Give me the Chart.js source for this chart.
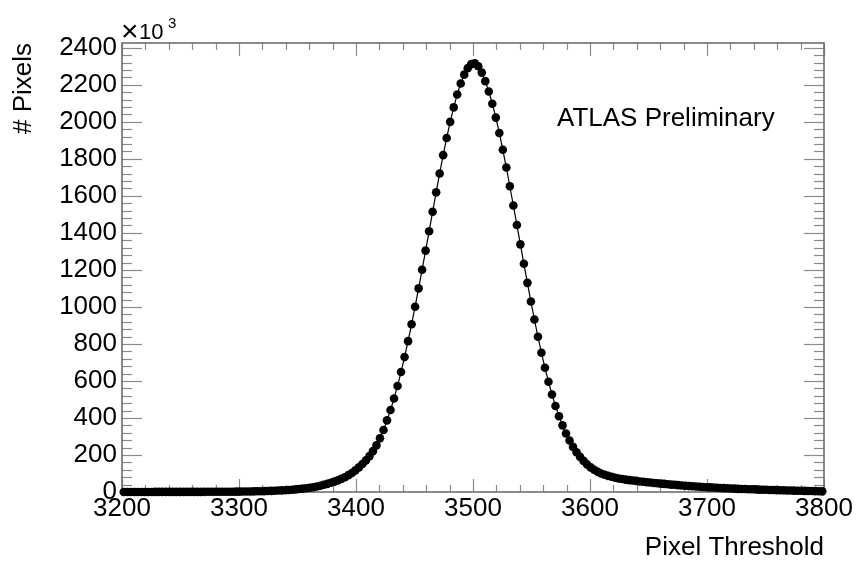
<!DOCTYPE html>
<html>
<head>
<meta charset="utf-8">
<script src="https://cdn.jsdelivr.net/npm/chart.js@4.4.1/dist/chart.umd.min.js"></script>
<style>
  html, body { margin: 0; padding: 0; background: #fff; }
  #wrap { width: 858px; height: 569px; }
</style>
</head>
<body>
<div id="wrap"><canvas id="thresholdChart" width="858" height="569"></canvas></div>
<script>
// histogram binning (200 bins from 3200 to 3800)
const binLow = 3200;
const binWidth = 3;

// pixel counts per bin, in units of 10^3
const pixelCounts = [
  0.3, 0.3, 0.3, 0.35, 0.35, 0.35, 0.4, 0.4, 0.4, 0.45,
  0.45, 0.5, 0.5, 0.55, 0.55, 0.6, 0.6, 0.65, 0.7, 0.7,
  0.75, 0.8, 0.85, 0.9, 0.95, 1.0, 1.1, 1.2, 1.3, 1.4,
  1.5, 1.6, 1.8, 2.0, 2.3, 2.6, 2.9, 3.3, 3.7, 4.2,
  4.7, 5.3, 6.0, 6.8, 7.7, 8.7, 9.8, 11, 12.5, 14,
  16, 18, 20.5, 23, 26, 30, 34, 39, 44, 50,
  56, 63, 71, 80, 91, 103, 117, 133, 151, 171,
  194, 221, 252, 290, 335, 387, 443, 505, 573, 648,
  729, 815, 906, 1001, 1100, 1201, 1304, 1409, 1514, 1619,
  1721, 1820, 1913, 2000, 2078, 2148, 2207, 2255, 2290, 2312,
  2316, 2300, 2266, 2220, 2164, 2098, 2023, 1940, 1849, 1753,
  1652, 1548, 1443, 1338, 1233, 1130, 1029, 932, 839, 752,
  671, 596, 527, 465, 409, 360, 316, 278, 244, 215,
  190, 168, 149, 133, 120, 109, 100, 93, 87, 82,
  77, 73, 70, 67, 64, 62, 60, 57, 55, 53,
  51, 49, 47, 45, 44, 42, 40, 39, 37, 35,
  34, 32, 31, 30, 28, 27, 26, 25, 24, 23,
  22, 21, 20, 19, 18, 17, 16.5, 16, 15, 14.5,
  14, 13, 12.5, 12, 11, 10.5, 10, 9.5, 9, 8.5,
  8, 7.5, 7, 6.5, 6, 5.5, 5, 4.5, 4, 3.5
];

const xTickValues = [3200, 3300, 3400, 3500, 3600, 3700, 3800];
const yTickValues = [0, 200, 400, 600, 800, 1000, 1200, 1400, 1600, 1800, 2000, 2200, 2400];
const xRange = [3200, 3800];
const yRange = [0, 2426];
const xMinorStep = 20;
const yMinorStep = 40;

const points = pixelCounts.map((v, i) => ({
  x: binLow + binWidth * (i + 0.5),
  y: v,
}));

const fontFamily = "'Liberation Sans', Arial, sans-serif";
Chart.defaults.font.family = fontFamily;
Chart.defaults.color = "#000";

// ROOT-like frame with inward ticks on all four sides
const rootFrame = {
  id: "rootFrame",
  beforeDatasetsDraw(chart) {
    const { ctx, chartArea: a, scales } = chart;
    const x = scales.x, y = scales.y;
    const seg = (x1, y1, x2, y2) => {
      ctx.beginPath();
      ctx.moveTo(x1, y1);
      ctx.lineTo(x2, y2);
      ctx.stroke();
    };
    ctx.save();
    ctx.strokeStyle = "#8a8a8a";
    ctx.lineWidth = 1.2;
    for (let v = xRange[0]; v <= xRange[1]; v += xMinorStep) {
      const px = Math.round(x.getPixelForValue(v)) + 0.5;
      const len = xTickValues.includes(v) ? 13 : 7;
      seg(px, a.bottom, px, a.bottom - len);
      seg(px, a.top, px, a.top + len);
    }
    for (let v = yRange[0]; v <= yRange[1]; v += yMinorStep) {
      const py = Math.round(y.getPixelForValue(v)) + 0.5;
      const len = yTickValues.includes(v) ? 20 : 10;
      seg(a.left, py, a.left + len, py);
      seg(a.right, py, a.right - len, py);
    }
    ctx.strokeStyle = "#6e6e6e";
    ctx.lineWidth = 1.6;
    ctx.strokeRect(a.left, a.top, a.right - a.left, a.bottom - a.top);
    ctx.restore();
  },
  afterDraw(chart) {
    const { ctx, chartArea: a } = chart;
    ctx.save();
    ctx.fillStyle = "#000";
    ctx.textBaseline = "alphabetic";
    ctx.font = "30px " + fontFamily;
    ctx.fillText("\u00d7", a.left - 1, 41);
    ctx.font = "22px " + fontFamily;
    ctx.fillText("10", a.left + 17, 39);
    ctx.font = "15px " + fontFamily;
    ctx.fillText("3", a.left + 46, 28);
    ctx.font = "26px " + fontFamily;
    ctx.fillText("ATLAS Preliminary", 557, 126);
    ctx.restore();
  },
};

const ctx = document.getElementById("thresholdChart").getContext("2d");
new Chart(ctx, {
  type: "line",
  data: {
    datasets: [
      {
        label: "Pixel threshold",
        data: points,
        borderColor: "#000",
        borderWidth: 1.2,
        backgroundColor: "#000",
        pointBackgroundColor: "#000",
        pointBorderWidth: 0,
        pointRadius: 4.3,
        tension: 0,
        fill: false,
        clip: false,
      },
    ],
  },
  options: {
    responsive: false,
    animation: false,
    devicePixelRatio: 1,
    layout: { padding: { top: 43, right: 34, left: 0, bottom: 0 } },
    plugins: {
      legend: { display: false },
      tooltip: { enabled: false },
    },
    scales: {
      x: {
        type: "linear",
        min: xRange[0],
        max: xRange[1],
        afterBuildTicks: (scale) => {
          scale.ticks = xTickValues.map((v) => ({ value: v }));
        },
        afterFit: (scale) => {
          scale.height = 77;
        },
        grid: { display: false, drawTicks: false },
        border: { display: false },
        ticks: {
          font: { size: 26 },
          padding: 1,
          maxRotation: 0,
          autoSkip: false,
          callback: (v) => String(v),
        },
        title: {
          display: true,
          text: "Pixel Threshold",
          align: "end",
          font: { size: 26 },
          padding: { top: 0, bottom: 6 },
        },
      },
      y: {
        type: "linear",
        min: yRange[0],
        max: yRange[1],
        afterBuildTicks: (scale) => {
          scale.ticks = yTickValues.map((v) => ({ value: v }));
        },
        afterFit: (scale) => {
          scale.width = 122;
        },
        grid: { display: false, drawTicks: false },
        border: { display: false },
        ticks: {
          font: { size: 26 },
          padding: 5,
          autoSkip: false,
          callback: (v) => String(v),
        },
        title: {
          display: true,
          text: "# Pixels",
          align: "end",
          font: { size: 26 },
          padding: { top: 8, bottom: 0 },
        },
      },
    },
  },
  plugins: [rootFrame],
});
</script>
</body>
</html>
